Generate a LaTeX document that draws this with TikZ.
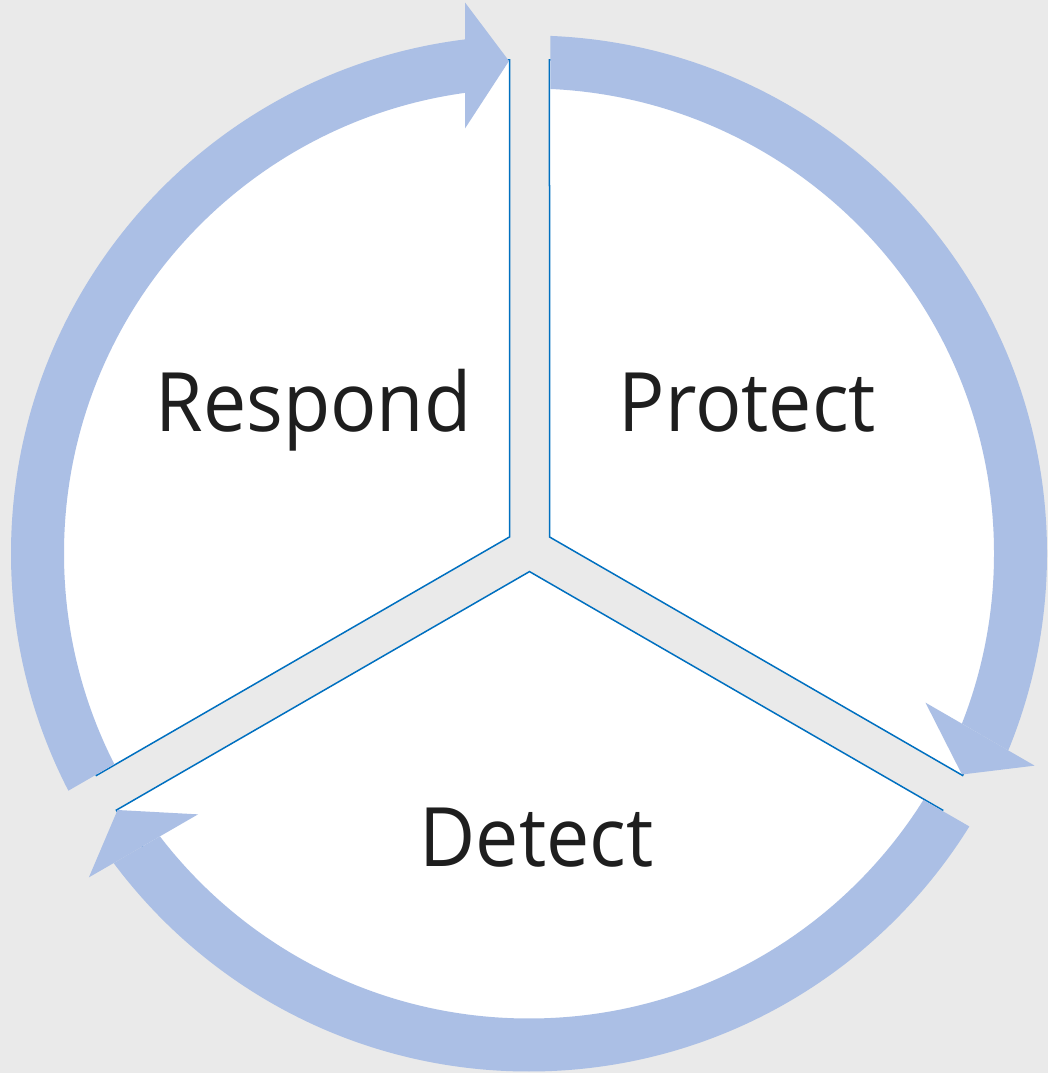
\documentclass[tikz,border=0pt]{standalone}
\usepackage{fontspec}
\setmainfont{Open Sans}[FakeStretch=0.94]
\usetikzlibrary{calc}
\definecolor{bgc}{RGB}{234,234,234}
\definecolor{bandc}{RGB}{171,191,229}
\definecolor{edgec}{RGB}{0,112,192}
\definecolor{inkc}{RGB}{30,30,30}
\begin{document}
\begin{tikzpicture}[x=1pt,y=1pt,
  wedge/.style={fill=white, draw=edgec, line width=1.5pt, line join=miter},
  bandring/.style={draw=bandc, line width=53pt},
  headfill/.style={fill=bandc},
  lbl/.style={text=inkc, font=\fontsize{82}{90}\selectfont, anchor=base, inner sep=0pt}]
\fill[bgc] (0,0) rectangle (1048,1073);
\useasboundingbox (0,0) rectangle (1048,1073);
\coordinate (Cw) at (529.5,524.5);
\coordinate (Cb) at (529,519.5);
% wedges
\draw[wedge] ($(Cw)+(150:23.094)$) -- ($(Cw)+(92.344:489)$) arc[start angle=92.344, end angle=207.656, radius=489] -- cycle;
\draw[wedge] ($(Cw)+(30:23.094)$) -- ($(Cw)+(87.656:489)$) arc[start angle=87.656, end angle=-27.656, radius=489] -- cycle;
\draw[wedge] ($(Cw)+(270:23.094)$) -- ($(Cw)+(-32.344:489)$) arc[start angle=-32.344, end angle=-147.656, radius=489] -- cycle;
% arrow bands
\foreach \s/\e in {210/90, 90/-30, -30/-150}{
  \begin{scope}
    \clip ($(Cw)+(\s:300)+({\s-90}:20.8)$) -- ($(Cw)+(\s:800)+({\s-90}:20.8)$)
      -- ($(Cw)+({\s-60}:900)$)
      -- ($(Cw)+(\e:800)+({\e-90}:-64.5)$) -- ($(Cw)+(\e:300)+({\e-90}:-64.5)$) -- cycle;
    \draw[bandring] (Cb) circle[radius=491.5];
  \end{scope}
  \fill[headfill] ($(Cw)+(\e:420)+({\e-90}:-64.5)$) -- ($(Cw)+(\e:487.5)+({\e-90}:-20.5)$)
    -- ($(Cw)+(\e:546)+({\e-90}:-64.5)$) -- cycle;
}
% labels
\node[lbl] (respond) at (313.5,641) {Respond};
\node[lbl] (protect) at (747.5,641) {Protect};
\node[lbl] (detect) at (536.5,206) {Detect};
\end{tikzpicture}
\end{document}
